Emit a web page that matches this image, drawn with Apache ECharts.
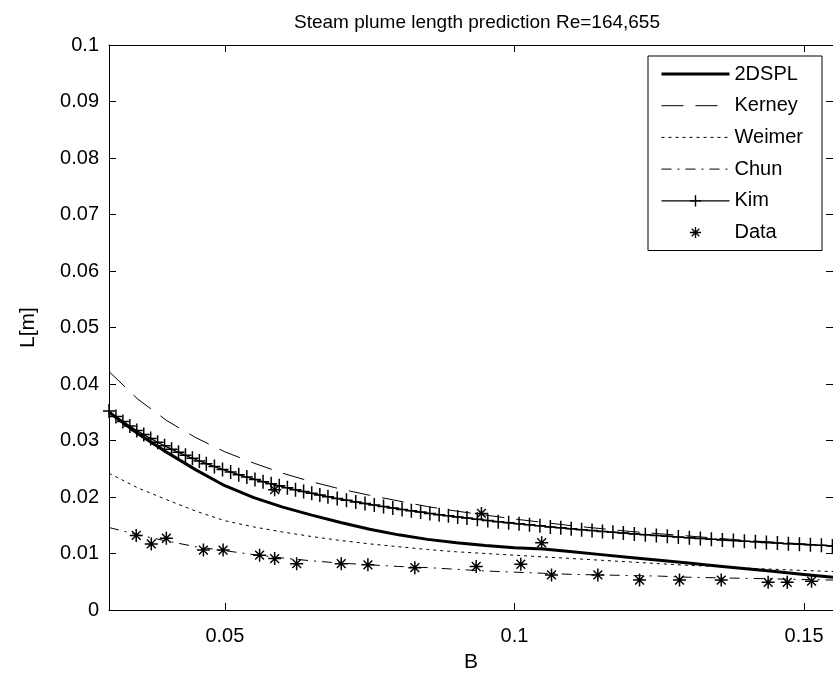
<!DOCTYPE html>
<html>
<head>
<meta charset="utf-8">
<script src="https://cdn.jsdelivr.net/npm/echarts@6/dist/echarts.min.js"></script>
<style>
html,body{margin:0;padding:0;background:#fff;}
#chart{width:833px;height:678px;}
</style>
</head>
<body>
<div id="chart"></div>
<script>
const titleText = 'Steam plume length prediction Re=164,655';
const xTickValues = [0.05, 0.1, 0.15];

// Common x grid for the model curves
const curveX = [0.030,0.035,0.040,0.045,0.050,0.055,0.060,0.065,0.070,0.075,0.080,0.085,0.090,0.095,0.100,0.105,0.110,0.115,0.120,0.125,0.130,0.135,0.140,0.145,0.150,0.155];
const spl2d  = [0.0350,0.0312,0.0279,0.0248,0.0220,0.0199,0.0182,0.0168,0.0155,0.0143,0.0133,0.0125,0.0119,0.0114,0.0110,0.0108,0.0103,0.0098,0.0093,0.0088,0.0083,0.0078,0.0073,0.0068,0.0063,0.0058];
const kerney = [0.0422,0.0373,0.0335,0.0305,0.0280,0.0260,0.0242,0.0227,0.0214,0.0203,0.0193,0.0183,0.0175,0.0168,0.0161,0.0155,0.0149,0.0144,0.0139,0.0135,0.0131,0.0127,0.0123,0.0120,0.0117,0.0113];
const weimer = [0.0242,0.0216,0.0195,0.0175,0.0158,0.0147,0.0138,0.0130,0.0123,0.0117,0.0112,0.0107,0.0103,0.0100,0.0097,0.0094,0.0091,0.0088,0.0085,0.0082,0.0079,0.0077,0.0074,0.0072,0.0070,0.0068];
const chun   = [0.0146,0.0133,0.0122,0.0112,0.0105,0.0098,0.0092,0.0087,0.0083,0.0080,0.0077,0.0075,0.0072,0.0069,0.0067,0.0065,0.0063,0.0062,0.0061,0.0060,0.0058,0.0057,0.0056,0.0055,0.0054,0.0053];

const kimX = [0.0300,0.0312,0.0324,0.0336,0.0348,0.0360,0.0372,0.0384,0.0396,0.0408,0.0420,0.0432,0.0444,0.0456,0.0468,
  0.0482,0.0496,0.0510,0.0524,0.0538,0.0552,0.0566,0.0580,0.0594,0.0608,0.0622,0.0636,0.0650,0.0664,0.0678,
  0.0694,0.0710,0.0726,0.0742,0.0758,0.0774,0.0790,0.0806,0.0822,0.0838,0.0854,0.0870,0.0886,0.0902,0.0918,
  0.0936,0.0954,0.0972,0.0990,0.1008,0.1026,0.1044,0.1062,0.1080,0.1098,0.1116,0.1134,0.1152,0.1170,0.1188,
  0.1207,0.1226,0.1245,0.1264,0.1283,0.1302,0.1321,0.1340,0.1359,0.1378,0.1397,0.1416,0.1435,0.1454,0.1473,0.1492,0.1511,0.1530,0.1549];
const kimY = [0.03520,0.03426,0.03338,0.03255,0.03177,0.03104,0.03034,0.02969,0.02906,0.02847,0.02791,0.02737,0.02686,0.02637,0.02590,
  0.02538,0.02488,0.02441,0.02396,0.02352,0.02311,0.02272,0.02234,0.02197,0.02162,0.02128,0.02096,0.02065,0.02035,0.02005,
  0.01973,0.01943,0.01913,0.01884,0.01857,0.01830,0.01805,0.01780,0.01756,0.01733,0.01710,0.01688,0.01667,0.01647,0.01627,
  0.01605,0.01584,0.01564,0.01544,0.01525,0.01507,0.01489,0.01471,0.01454,0.01438,0.01422,0.01406,0.01391,0.01376,0.01362,
  0.01347,0.01333,0.01319,0.01305,0.01291,0.01278,0.01266,0.01253,0.01241,0.01229,0.01218,0.01206,0.01195,0.01185,0.01174,0.01164,0.01154,0.01144,0.01134];

const dataX = [0.0347,0.0373,0.0399,0.0463,0.0497,0.0560,0.0586,0.0586,0.0624,0.0701,0.0747,0.0828,0.0934,0.0943,0.1011,0.1047,0.1064,0.1144,0.1216,0.1285,0.1357,0.1438,0.1471,0.1513];
const dataY = [0.0132,0.0117,0.0127,0.0106,0.0106,0.0097,0.0091,0.0213,0.0082,0.0082,0.0080,0.0075,0.0077,0.0171,0.0081,0.0119,0.0062,0.0062,0.0053,0.0053,0.0053,0.0049,0.0049,0.0051];

const FONT = 'Liberation Sans, Arial, sans-serif';
const pair = (xs, ys) => xs.map((x, i) => [x, ys[i]]);

const plusPath = 'path://M-0.75,-7 L0.75,-7 L0.75,7 L-0.75,7 Z M-6,-0.75 L6,-0.75 L6,0.75 L-6,0.75 Z';
const starPath = 'path://M-0.75,-6.5 L0.75,-6.5 L0.75,6.5 L-0.75,6.5 Z M-6.5,-0.75 L6.5,-0.75 L6.5,0.75 L-6.5,0.75 Z M-4.9,-3.9 L-3.9,-4.9 L4.9,3.9 L3.9,4.9 Z M3.9,-4.9 L4.9,-3.9 L-3.9,4.9 L-4.9,3.9 Z';
const hidden = {color: 'rgba(0,0,0,0)'};

const chart = echarts.init(document.getElementById('chart'), null, {renderer: 'canvas'});

const axisCommon = {
  axisLine: {show: true, onZero: false, lineStyle: {color: '#000', width: 1}},
  splitLine: {show: false},
  axisTick: {inside: true, length: 7, lineStyle: {color: '#000'}}
};

const option = {
  backgroundColor: '#fff',
  animation: false,
  title: {
    text: titleText, left: 472, top: 8, textAlign: 'center',
    textStyle: {fontFamily: FONT, fontSize: 19, fontWeight: 'normal', color: '#000'}
  },
  grid: {left: 109, top: 45, right: -2, bottom: 59, containLabel: false},
  legend: {
    orient: 'vertical', left: 648, top: 56,
    padding: [8, 19, 8, 12],
    itemWidth: 68, itemHeight: 14, itemGap: 11.7,
    backgroundColor: '#fff', borderColor: '#000', borderWidth: 1, borderRadius: 0,
    textStyle: {fontFamily: FONT, fontSize: 20, color: '#000'},
    lineStyle: {width: 1},
    data: [
      {name: '2DSPL', lineStyle: {width: 3}},
      {name: 'Kerney'}, {name: 'Weimer'}, {name: 'Chun'},
      {name: 'Kim', lineStyle: {width: 1.3}},
      {name: 'Data'}
    ]
  },
  xAxis: [
    Object.assign({}, axisCommon, {
      type: 'value', position: 'bottom', min: 0.03, max: 0.155,
      axisTick: {inside: true, length: 7, lineStyle: {color: '#000'}, customValues: xTickValues},
      axisLabel: {customValues: xTickValues, margin: 16, fontFamily: FONT, fontSize: 20, color: '#000',
        formatter: v => String(+v.toFixed(3))},
      name: 'B', nameLocation: 'middle', nameGap: 42,
      nameTextStyle: {fontFamily: FONT, fontSize: 21, color: '#000'}
    }),
    Object.assign({}, axisCommon, {
      type: 'value', position: 'top', min: 0.03, max: 0.155,
      axisTick: {inside: true, length: 7, lineStyle: {color: '#000'}, customValues: xTickValues},
      axisLabel: {show: false}
    })
  ],
  yAxis: [
    Object.assign({}, axisCommon, {
      type: 'value', position: 'left', min: 0, max: 0.1, interval: 0.01,
      axisLabel: {margin: 10, fontFamily: FONT, fontSize: 20, color: '#000',
        formatter: v => String(+v.toFixed(2))},
      name: 'L[m]', nameLocation: 'middle', nameGap: 70, nameRotate: 90,
      nameTextStyle: {fontFamily: FONT, fontSize: 21, color: '#000'}
    }),
    Object.assign({}, axisCommon, {
      type: 'value', position: 'right', min: 0, max: 0.1, interval: 0.01,
      axisLabel: {show: false}
    })
  ],
  series: [
    {name: '2DSPL', type: 'line', data: pair(curveX, spl2d), symbol: 'circle', showSymbol: false,
      lineStyle: {color: '#000', width: 3}, itemStyle: hidden, z: 3},
    {name: 'Kerney', type: 'line', data: pair(curveX, kerney), symbol: 'circle', showSymbol: false,
      lineStyle: {color: '#000', width: 1, type: [22, 12]}, itemStyle: hidden},
    {name: 'Weimer', type: 'line', data: pair(curveX, weimer), symbol: 'circle', showSymbol: false,
      lineStyle: {color: '#000', width: 1, type: [3, 4]}, itemStyle: hidden},
    {name: 'Chun', type: 'line', data: pair(curveX, chun), symbol: 'circle', showSymbol: false,
      lineStyle: {color: '#000', width: 1, type: [10, 6, 2, 6]}, itemStyle: hidden},
    {name: 'Kim', type: 'line', data: pair(kimX, kimY), symbol: plusPath, symbolSize: [12, 14], showSymbol: true,
      lineStyle: {color: '#000', width: 1.3}, itemStyle: {color: '#000'}},
    {name: 'Data', type: 'line', data: pair(dataX, dataY), symbol: starPath, symbolSize: 13, showSymbol: true,
      lineStyle: {color: 'rgba(0,0,0,0)', width: 0}, itemStyle: {color: '#000'}, z: 4}
  ]
};
chart.setOption(option);
</script>
</body>
</html>
